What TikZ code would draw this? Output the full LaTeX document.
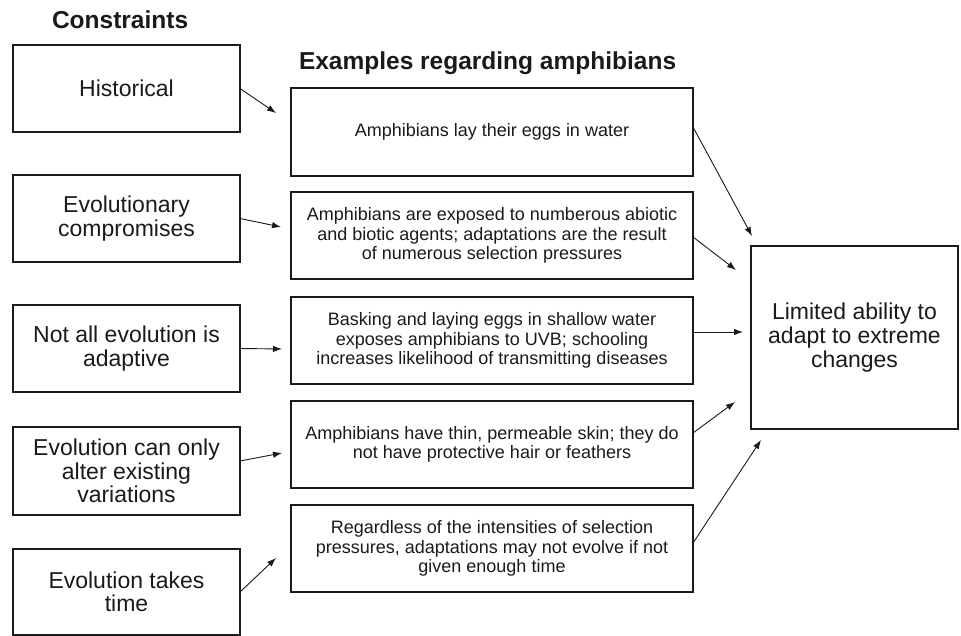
\documentclass[tikz,border=0pt]{standalone}
\usepackage{fontspec}
\setmainfont{Liberation Sans}
\usetikzlibrary{arrows.meta}
\definecolor{ink}{HTML}{1A1A1A}
\begin{document}
\begin{tikzpicture}[x=1pt,y=-1pt,
  every node/.style={inner sep=0pt, outer sep=0pt, text=ink},
  leftbox/.style={draw=ink, line width=1.6pt, minimum width=227pt, align=center,
     font=\fontsize{23}{23.5}\selectfont},
  midbox/.style={draw=ink, line width=1.6pt, minimum width=402pt, minimum height=87pt, align=center,
     font=\fontsize{18}{19.2}\selectfont},
  rightbox/.style={draw=ink, line width=1.6pt, minimum width=207pt, minimum height=183pt, align=center,
     font=\fontsize{23}{24.3}\selectfont},
  heading/.style={anchor=base west, font=\fontsize{24.5}{26}\selectfont\bfseries},
  arr/.style={draw=ink, line width=0.9pt, -{Latex[length=9pt,width=6.5pt]}}
]
\useasboundingbox (0,0) rectangle (961,636);

% headings
\node[heading] (t1) at (52,29) {Constraints};
\node[heading] (t2) at (299,70) {Examples regarding amphibians};

% left boxes
\node[leftbox, minimum height=87pt] (h)  at (126.5,88.5) {Historical};
\node[leftbox, minimum height=87pt] (ec) at (126.5,218.5) {Evolutionary\\compromises};
\node[leftbox, minimum height=87pt] (na) at (126.5,348.5) {Not all evolution is\\adaptive};
\node[leftbox, minimum height=88pt] (eo) at (126.5,471) {Evolution can only\\alter existing\\variations};
\node[leftbox, minimum height=86pt] (et) at (126.5,592) {Evolution takes\\time};

% middle boxes
\node[midbox, minimum height=88pt] (m1) at (492,132) {Amphibians lay their eggs in water};
\node[midbox] (m2) at (492,235.5) {Amphibians are exposed to numberous abiotic\\and biotic agents; adaptations are the result\\of numerous selection pressures};
\node[midbox] (m3) at (492,340.5) {Basking and laying eggs in shallow water\\exposes amphibians to UVB; schooling\\increases likelihood of transmitting diseases};
\node[midbox] (m4) at (492,444.5) {Amphibians have thin, permeable skin; they do\\not have protective hair or feathers};
\node[midbox] (m5) at (492,548.5) {Regardless of the intensities of selection\\pressures, adaptations may not evolve if not\\given enough time};

% right box
\node[rightbox] (r) at (854.5,337.5) {Limited ability to\\adapt to extreme\\changes};

% free arrow ends
\coordinate (a1) at (276,113);
\coordinate (a2) at (281,227);
\coordinate (a3) at (282,349);
\coordinate (a4) at (282,453);
\coordinate (a5) at (276,558);
\coordinate (b1) at (752,236);
\coordinate (b2) at (736,270);
\coordinate (b3) at (743,332);
\coordinate (b4) at (735,402);
\coordinate (b5) at (761,440);

% left arrows
\draw[arr] (h.east) -- (a1);
\draw[arr] (ec.east) -- (a2);
\draw[arr] (na.east) -- (a3);
\draw[arr] ([yshift=10pt]eo.east) -- (a4);
\draw[arr] (et.east) -- (a5);

% right arrows
\draw[arr] ([yshift=5pt]m1.east) -- (b1);
\draw[arr] ([yshift=-1.5pt]m2.east) -- (b2);
\draw[arr] ([yshift=8.5pt]m3.east) -- (b3);
\draw[arr] ([yshift=11.5pt]m4.east) -- (b4);
\draw[arr] ([yshift=5.5pt]m5.east) -- (b5);
\end{tikzpicture}
\end{document}
